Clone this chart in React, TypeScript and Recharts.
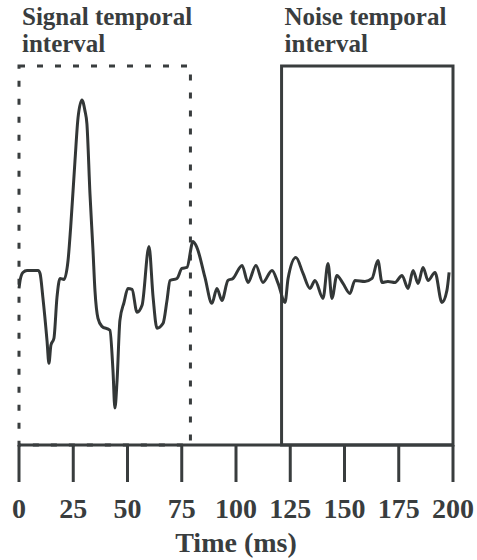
import React from "react";
import { LineChart, Line, XAxis, YAxis, ReferenceArea } from "recharts";

// time (ms) of each sampled point on the trace
const timeMs = [
  0, 0.5, 1.8, 3.7, 8.8, 9.7, 11, 12.9, 13.8, 14.7, 16.1, 17.5, 18.9, 20.7, 22.6, 23.8,
  25.8, 27.2, 29, 30.4, 31.3, 32.7, 34.1, 35, 36.4, 38.2, 41.9, 43.3, 44.2, 45.2, 46.5,
  48.4, 50.2, 52.1, 54.4, 56.7, 59.9, 61.8, 63.6, 66.4, 68.2, 69.6, 72.8, 75.1, 77.4,
  80.2, 82, 85.7, 88.9, 91.2, 93.5, 96.3, 98.6, 102.8, 105.5, 109.2, 112.4, 116.6,
  119.4, 122.6, 124, 127.6, 130.9, 134.1, 136.4, 140.1, 142.4, 144.2, 146.5, 149.3,
  152.5, 154.8, 159.4, 162.7, 165.4, 167.3, 170, 173.3, 176.5, 179.3, 181.6, 183.9,
  186.2, 188.5, 191.7, 194.9, 197.2, 198.2,
];

// amplitude (arbitrary units) at each time
const amplitude = [
  -1.3, -0.5, 0.3, 0.5, 0.5, 0.2, -2.2, -6.5, -8.8, -7, -6.3, -2.2, -0.3, -0.4, 1.5, 4.8,
  11.5, 15.8, 17.6, 16.5, 15.2, 8.2, 2.5, -1.5, -4.3, -5.1, -5.5, -9.5, -13.3, -10.5, -4.5,
  -2.7, -1.3, -1.4, -3.7, -3, 2.9, -2.2, -5.3, -4.8, -2.5, -0.5, -0.3, 0.7, 0.8,
  3.4, 2.8, -0.2, -2.8, -1.3, -2.5, -0.5, -0.3, 1, -0.7, 1, -0.7, 0.5,
  -0.8, -2.7, -0.3, 1.8, 0.2, -1.3, -0.5, -2.3, 1.2, -2.3, 0, -0.8,
  -1.8, -0.5, -0.6, -0.3, 1.5, -0.7, -0.6, -0.7, 0, -1.3, 0.5, -0.8,
  0.8, -0.5, 0.3, -2.7, -1.5, 0.3,
];

const xTicks = [0, 25, 50, 75, 100, 125, 150, 175, 200];
const signalInterval = [0, 79];
const noiseInterval = [121, 200];
const yRange = [-17, 21];

const data = timeMs.map((t, i) => ({ t, v: amplitude[i] }));

const INK = "#393d3e";
const FONT = "Liberation Serif";

function titleLabel(lines: string[]) {
  return (props: any) => {
    const vb = props.viewBox || {};
    return (
      <text
        x={vb.x + 3}
        y={vb.y - 41}
        fill={INK}
        style={{ fontFamily: FONT, fontWeight: 700, fontSize: 25 }}
      >
        {lines.map((l, i) => (
          <tspan key={l} x={vb.x + 3} dy={i === 0 ? 0 : 27}>
            {l}
          </tspan>
        ))}
      </text>
    );
  };
}

function axisTitle(props: any) {
  const vb = props.viewBox || {};
  return (
    <text
      x={vb.x + vb.width / 2}
      y={vb.y + 107}
      textAnchor="middle"
      fill={INK}
      style={{ fontFamily: FONT, fontWeight: 700, fontSize: 28 }}
    >
      Time (ms)
    </text>
  );
}

export default function App() {
  return (
    <div style={{ position: "absolute", left: 0, top: 0, width: 477, height: 560, background: "#fff" }}>
      <LineChart
        width={477}
        height={560}
        data={data}
        margin={{ top: 66, right: 24, left: 19, bottom: 85 }}
      >
        <XAxis
          dataKey="t"
          type="number"
          domain={[0, 200]}
          ticks={xTicks}
          interval={0}
          tickSize={37}
          tickMargin={16}
          axisLine={{ stroke: INK, strokeWidth: 3 }}
          tickLine={{ stroke: INK, strokeWidth: 3 }}
          tick={{ fill: INK, fontSize: 28, fontWeight: "bold", fontFamily: FONT }}
          label={axisTitle}
        />
        <YAxis hide type="number" domain={yRange} />
        <ReferenceArea
          x1={signalInterval[0]}
          x2={signalInterval[1]}
          y1={yRange[0]}
          y2={yRange[1]}
          fill="none"
          stroke={INK}
          strokeWidth={3}
          strokeDasharray="6 12"
          ifOverflow="visible"
          label={titleLabel(["Signal temporal", "interval"])}
        />
        <ReferenceArea
          x1={noiseInterval[0]}
          x2={noiseInterval[1]}
          y1={yRange[0]}
          y2={yRange[1]}
          fill="none"
          stroke={INK}
          strokeWidth={3}
          ifOverflow="visible"
          label={titleLabel(["Noise temporal", "interval"])}
        />
        <Line
          type="monotone"
          dataKey="v"
          stroke="#333737"
          strokeWidth={3}
          dot={false}
          isAnimationActive={false}
        />
      </LineChart>
    </div>
  );
}
